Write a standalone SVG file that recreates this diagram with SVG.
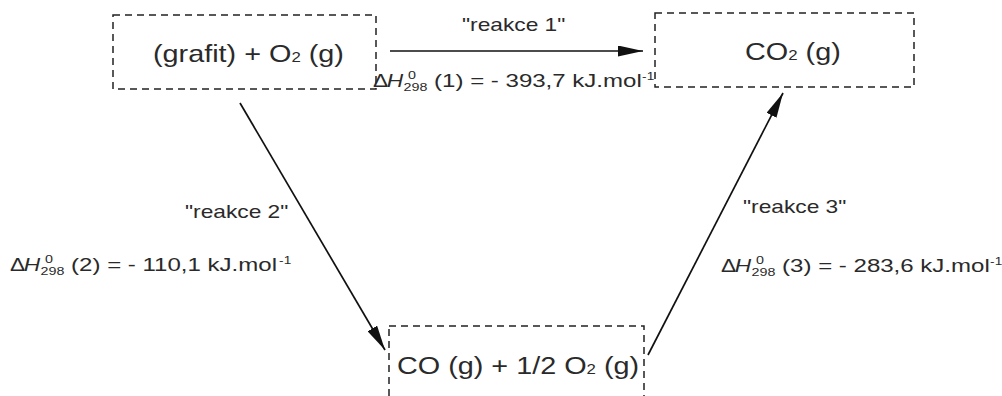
<svg xmlns="http://www.w3.org/2000/svg" width="1002" height="396" viewBox="0 0 1002 396">
<style>
.box{fill:none;stroke:#222;stroke-width:1.5;stroke-dasharray:7 5}
.big{font-family:"Liberation Sans",Arial,sans-serif;font-size:24px;fill:#2a2a2a}
.lbl{font-family:"Liberation Sans",Arial,sans-serif;font-size:17.5px;fill:#2a2a2a}
.sm{font-size:11px}
.main{font-size:18.5px}
.sup{font-size:10.5px}
.edge{stroke:#111;stroke-width:1.7;fill:none;marker-end:url(#ah)}
</style>
<defs>
<marker id="ah" viewBox="0 0 25 11" refX="25" refY="5.5" markerWidth="25" markerHeight="11" markerUnits="userSpaceOnUse" orient="auto">
<path d="M0,0 L25,5.5 L0,11 z" fill="#111"/>
</marker>
</defs>
<g id="connectors">
<line class="edge" x1="390" y1="51" x2="643" y2="51"/>
<line class="edge" x1="240" y1="103" x2="385" y2="350"/>
<line class="edge" x1="648" y1="355" x2="783" y2="93"/>
</g>
<g id="node-grafit">
<rect class="box" x="113" y="15" width="263" height="74"/>
<g transform="translate(153,62) scale(1.2,1)"><text class="big" x="0" y="0">(grafit) + O<tspan font-size="14">2</tspan> (g)</text></g>
</g>
<g id="node-co2">
<rect class="box" x="655" y="13" width="259" height="74"/>
<g transform="translate(745,60) scale(1.2,1)"><text class="big" x="0" y="0">CO<tspan font-size="14">2</tspan> (g)</text></g>
</g>
<g id="node-co">
<rect class="box" x="389" y="326" width="255" height="74"/>
<g transform="translate(397,374) scale(1.2,1)"><text class="big" x="0" y="0">CO (g) + 1/2 O<tspan font-size="14">2</tspan> (g)</text></g>
</g>
<g id="labels">
<g transform="translate(462,31) scale(1.3,1)"><text class="lbl" x="0" y="0">"reakce 1"</text></g>
<g transform="translate(185,218) scale(1.3,1)"><text class="lbl" x="0" y="0">"reakce 2"</text></g>
<g transform="translate(743,213) scale(1.3,1)"><text class="lbl" x="0" y="0">"reakce 3"</text></g>
<g transform="translate(373,87) scale(1.3,1)" class="lbl">
<text x="0" y="0">Δ</text><text x="10.5" y="0" font-style="italic">H</text>
<text class="sm" x="23.5" y="4">298</text><text class="sm" x="27" y="-8">0</text>
<text class="main" x="47" y="0">(1) = - 393,7 kJ.mol</text><text class="sup" x="207" y="-7">-1</text>
</g>
<g transform="translate(10,271) scale(1.3,1)" class="lbl">
<text x="0" y="0">Δ</text><text x="10.5" y="0" font-style="italic">H</text>
<text class="sm" x="23.5" y="4">298</text><text class="sm" x="27" y="-8">0</text>
<text class="main" x="47" y="0">(2) = - 110,1 kJ.mol</text><text class="sup" x="207" y="-7">-1</text>
</g>
<g transform="translate(721,272) scale(1.3,1)" class="lbl">
<text x="0" y="0">Δ</text><text x="10.5" y="0" font-style="italic">H</text>
<text class="sm" x="23.5" y="4">298</text><text class="sm" x="27" y="-8">0</text>
<text class="main" x="47" y="0">(3) = - 283,6 kJ.mol</text><text class="sup" x="207" y="-7">-1</text>
</g>
</g>
</svg>
